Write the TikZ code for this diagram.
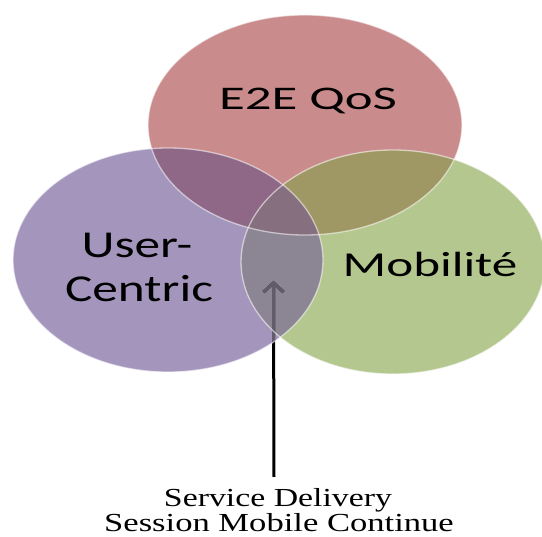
\documentclass[tikz,border=0pt]{standalone}
\usepackage{fontspec}
\setmainfont{Liberation Serif}
\newfontfamily\labelfont{Carlito}
\usetikzlibrary{arrows.meta}
\definecolor{cR}{RGB}{201,139,139}
\definecolor{cP}{RGB}{164,149,189}
\definecolor{cG}{RGB}{180,199,143}
\definecolor{cRP}{RGB}{143,104,136}
\definecolor{cRG}{RGB}{160,152,100}
\definecolor{cPG}{RGB}{140,134,148}
\definecolor{cRPG}{RGB}{134,112,128}
\definecolor{arrgrey}{RGB}{98,92,106}
\begin{document}
\begin{tikzpicture}[x=1pt,y=-1pt,
  lbl/.style={inner sep=0pt, anchor=base, text=black},
  rim/.style={draw=white, draw opacity=0.55, line width=1.3pt},
  arrowline/.style={line width=3pt, -{Straight Barb[length=9pt,width=20pt]}}]
\useasboundingbox[fill=white] (0,0) rectangle (542,537);
\coordinate (oR) at (305,125);
\coordinate (oP) at (168,260);
\coordinate (oG) at (393,262);
\coordinate (tail) at (274,477);
\coordinate (tip) at (273.5,281);
% base fills
\fill[cR] (oR) ellipse [x radius=157pt, y radius=110pt];
\fill[cP] (oP) ellipse [x radius=155pt, y radius=112pt];
\fill[cG] (oG) ellipse [x radius=152pt, y radius=112pt];
% purple-green overlap
\begin{scope}
  \clip (oP) ellipse [x radius=155pt, y radius=112pt];
  \fill[cPG] (oG) ellipse [x radius=152pt, y radius=112pt];
\end{scope}
% overlaps with red
\begin{scope}
  \clip (oR) ellipse [x radius=157pt, y radius=110pt];
  \fill[cRP] (oP) ellipse [x radius=155pt, y radius=112pt];
  \fill[cRG] (oG) ellipse [x radius=152pt, y radius=112pt];
  \clip (oP) ellipse [x radius=155pt, y radius=112pt];
  \fill[cRPG] (oG) ellipse [x radius=152pt, y radius=112pt];
\end{scope}
% arrow
\draw[arrowline, black] (tail) -- (tip);
\begin{scope}
  \clip (oP) ellipse [x radius=155pt, y radius=112pt];
  \draw[arrowline, arrgrey] (tail) -- (tip);
\end{scope}
\begin{scope}
  \clip (oG) ellipse [x radius=152pt, y radius=112pt];
  \draw[arrowline, arrgrey] (tail) -- (tip);
\end{scope}
% rims
\path[rim] (oR) ellipse [x radius=157pt, y radius=110pt];
\path[rim] (oP) ellipse [x radius=155pt, y radius=112pt];
\path[rim] (oG) ellipse [x radius=152pt, y radius=112pt];
% labels
\node[lbl] (tE) at (308,110) {\labelfont\fontsize{33}{40}\selectfont\scalebox{1.6}[1]{E2E QoS}};
\node[lbl] (tU1) at (137,258) {\labelfont\fontsize{38}{44}\selectfont\scalebox{1.35}[1]{User-}};
\node[lbl] (tU2) at (139,302) {\labelfont\fontsize{38}{44}\selectfont\scalebox{1.35}[1]{Centric}};
\node[lbl] (tM) at (430,277) {\labelfont\fontsize{35}{42}\selectfont\scalebox{1.46}[1]{Mobilité}};
\node[lbl] (tS1) at (278,507) {\fontsize{26}{30}\selectfont\scalebox{1.3}[1]{Service Delivery}};
\node[lbl, text depth=0pt] (tS2) at (279,532) {\fontsize{26}{30}\selectfont\scalebox{1.33}[1]{Session Mobile Continue}};
\end{tikzpicture}
\end{document}
